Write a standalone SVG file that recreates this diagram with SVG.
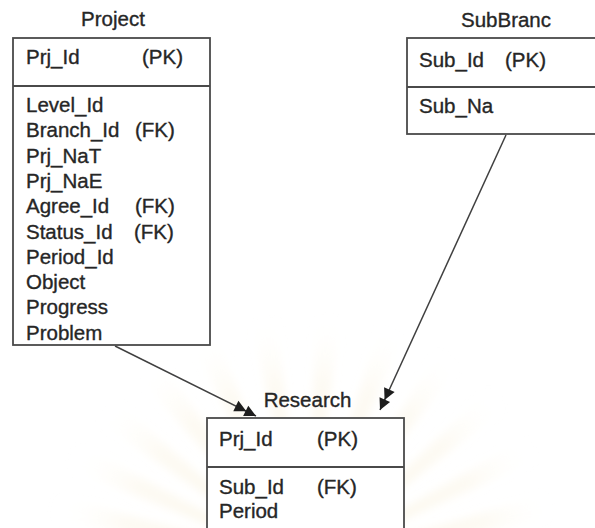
<svg xmlns="http://www.w3.org/2000/svg" width="595" height="528" viewBox="0 0 595 528">
  <defs>
    <style>
      .box { fill: #ffffff; stroke: #4a4a4a; stroke-width: 1.8; }
      .sep { stroke: #4a4a4a; stroke-width: 1.8; fill: none; }
      .t { font-family: "Liberation Sans", Arial, sans-serif; font-size: 20.5px; fill: #262626; stroke: #262626; stroke-width: 0.35; }
      .title { text-anchor: middle; }
      .link { stroke: #404040; stroke-width: 1.5; fill: none; marker-end: url(#many); }
    </style>
    <!-- double filled arrowhead used for the "many" end of a relation -->
    <marker id="many" markerUnits="userSpaceOnUse" viewBox="-24 -7 26 14" refX="0" refY="0" markerWidth="26" markerHeight="14" orient="auto" overflow="visible">
      <path d="M0,0 L-11.5,-5.8 L-11.5,5.8 Z M-11,0 L-22.5,-5.8 L-22.5,5.8 Z" fill="#1e1e1e"/>
    </marker>
    <radialGradient id="rayFade" cx="305" cy="565" r="260" gradientUnits="userSpaceOnUse">
      <stop offset="0" stop-color="#f6ecc8" stop-opacity="0.45"/>
      <stop offset="0.7" stop-color="#f8f0d8" stop-opacity="0.3"/>
      <stop offset="1" stop-color="#ffffff" stop-opacity="0"/>
    </radialGradient>
    <filter id="soft" x="-10%" y="-10%" width="120%" height="120%">
      <feGaussianBlur stdDeviation="4"/>
    </filter>
  </defs>

  <rect width="595" height="528" fill="#ffffff"/>

  <!-- faint sunburst seal printed behind the lower part of the page -->
  <g id="seal" fill="url(#rayFade)" filter="url(#soft)">
    <path d="M305,565 L50,520 L54,494 Z"/>
    <path d="M305,565 L68,468 L78,444 Z"/>
    <path d="M305,565 L100,422 L115,401 Z"/>
    <path d="M305,565 L143,382 L162,364 Z"/>
    <path d="M305,565 L195,349 L217,336 Z"/>
    <path d="M305,565 L252,326 L277,322 Z"/>
    <path d="M305,565 L316,319 L341,322 Z"/>
    <path d="M305,565 L379,328 L402,338 Z"/>
    <path d="M305,565 L438,352 L458,367 Z"/>
    <path d="M305,565 L489,389 L504,409 Z"/>
    <path d="M305,565 L526,438 L535,461 Z"/>
    <path d="M305,565 L546,494 L550,519 Z"/>
  </g>

  <!-- relations -->
  <g id="connectors">
    <path class="link" d="M115,346 L256,416"/>
    <path class="link" d="M506,135 L380,410"/>
  </g>

  <!-- Project entity -->
  <g id="project">
    <text class="t title" x="113" y="26">Project</text>
    <rect class="box" x="13" y="38" width="197" height="307"/>
    <line class="sep" x1="13" y1="86" x2="210" y2="86"/>
    <text class="t" x="26" y="64">Prj_Id</text>
    <text class="t" x="142" y="64">(PK)</text>
    <text class="t" x="26" y="112">Level_Id</text>
    <text class="t" x="26" y="137.3">Branch_Id</text>
    <text class="t" x="135" y="137.3">(FK)</text>
    <text class="t" x="26" y="162.6">Prj_NaT</text>
    <text class="t" x="26" y="187.9">Prj_NaE</text>
    <text class="t" x="26" y="213.2">Agree_Id</text>
    <text class="t" x="135" y="213.2">(FK)</text>
    <text class="t" x="26" y="238.5">Status_Id</text>
    <text class="t" x="134" y="238.5">(FK)</text>
    <text class="t" x="26" y="263.8">Period_Id</text>
    <text class="t" x="26" y="289.1">Object</text>
    <text class="t" x="26" y="314.4">Progress</text>
    <text class="t" x="26" y="339.7">Problem</text>
  </g>

  <!-- SubBranc entity -->
  <g id="subbranc">
    <text class="t title" x="506" y="27">SubBranc</text>
    <rect class="box" x="407" y="38" width="200" height="96"/>
    <line class="sep" x1="407" y1="87" x2="607" y2="87"/>
    <text class="t" x="419" y="67">Sub_Id</text>
    <text class="t" x="505" y="67">(PK)</text>
    <text class="t" x="419" y="113">Sub_Na</text>
  </g>

  <!-- Research entity -->
  <g id="research">
    <text class="t title" x="307.5" y="407">Research</text>
    <rect class="box" x="207" y="418" width="197" height="130"/>
    <line class="sep" x1="207" y1="467" x2="404" y2="467"/>
    <text class="t" x="219" y="446">Prj_Id</text>
    <text class="t" x="317" y="446">(PK)</text>
    <text class="t" x="219" y="494">Sub_Id</text>
    <text class="t" x="317" y="494">(FK)</text>
    <text class="t" x="219" y="518">Period</text>
  </g>
</svg>
